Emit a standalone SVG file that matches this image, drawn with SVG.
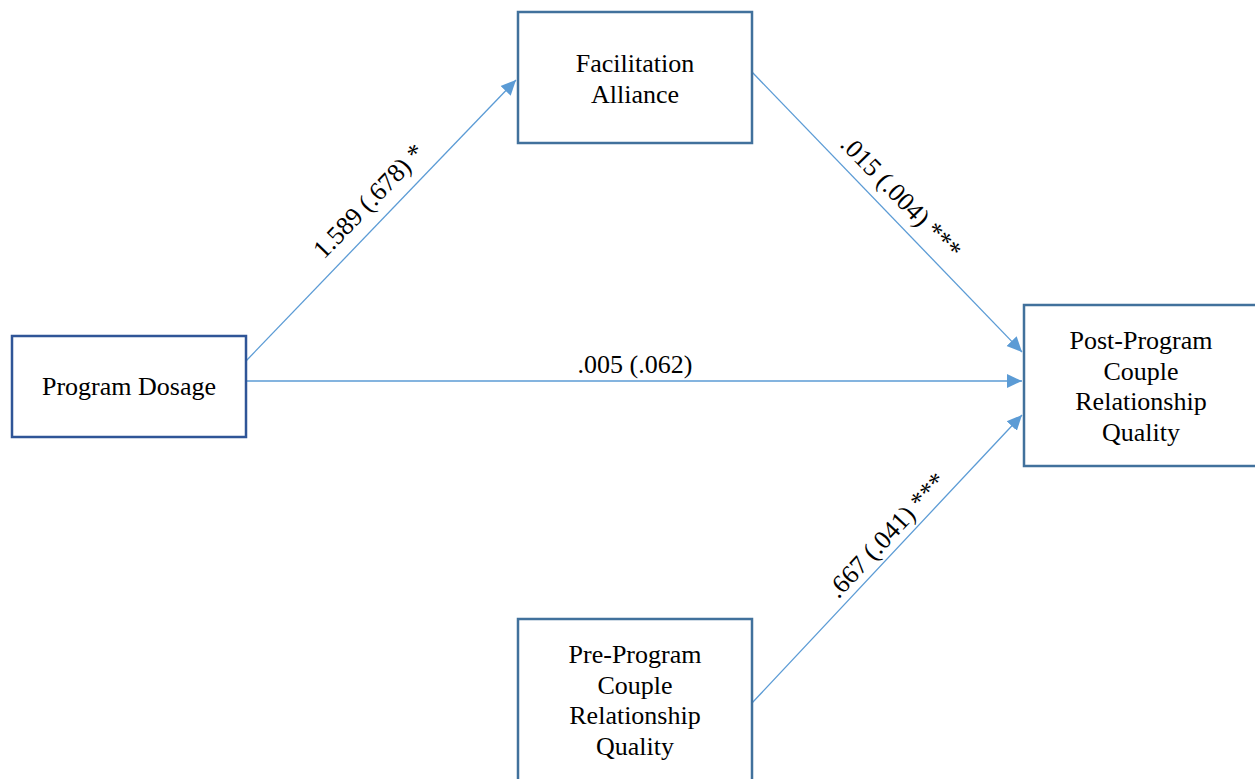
<svg xmlns="http://www.w3.org/2000/svg" width="1255" height="779" viewBox="0 0 1255 779">
<defs>
<marker id="arr" markerUnits="userSpaceOnUse" markerWidth="16" markerHeight="16" viewBox="0 0 16 16" refX="15" refY="8" orient="auto">
<path d="M0,1 L15,8 L0,15 Z" fill="#5b9bd5"/>
</marker>
<style>
.box{fill:#ffffff;stroke:#41719c;stroke-width:2.5}
.box2{fill:#ffffff;stroke:#2f5597;stroke-width:2.5}
.t{font-family:"Liberation Serif","Times New Roman",serif;font-size:26px;fill:#000000;text-anchor:middle}
.c{stroke:#5b9bd5;stroke-width:1.3;fill:none;marker-end:url(#arr)}
</style>
</defs>
<rect width="1255" height="779" fill="#ffffff"/>
<g id="connectors">
<line class="c" x1="246" y1="361" x2="516" y2="80"/>
<line class="c" x1="752" y1="72" x2="1022" y2="352"/>
<line class="c" x1="246" y1="381" x2="1022" y2="381"/>
<line class="c" x1="752" y1="703" x2="1022" y2="415"/>
<text class="t" transform="translate(375,207) rotate(-46)">1.589 (.678) *</text>
<text class="t" transform="translate(895,203) rotate(45.8)">.015 (.004) ***</text>
<text class="t" x="635" y="373">.005 (.062)</text>
<text class="t" transform="translate(893,541) rotate(-47)">.667 (.041) ***</text>
</g>
<g id="program-dosage">
<rect class="box2" x="12" y="336" width="234" height="101"/>
<text class="t" x="129" y="395">Program Dosage</text>
</g>
<g id="facilitation-alliance">
<rect class="box" x="518" y="12" width="234" height="131"/>
<text class="t" x="635" y="72">Facilitation</text>
<text class="t" x="635" y="103">Alliance</text>
</g>
<g id="post-program">
<rect class="box" x="1024" y="305" width="240" height="161"/>
<text class="t" x="1141" y="349">Post-Program</text>
<text class="t" x="1141" y="380">Couple</text>
<text class="t" x="1141" y="410">Relationship</text>
<text class="t" x="1141" y="441">Quality</text>
</g>
<g id="pre-program">
<rect class="box" x="518" y="619" width="234" height="170"/>
<text class="t" x="635" y="663">Pre-Program</text>
<text class="t" x="635" y="694">Couple</text>
<text class="t" x="635" y="724">Relationship</text>
<text class="t" x="635" y="755">Quality</text>
</g>
</svg>
